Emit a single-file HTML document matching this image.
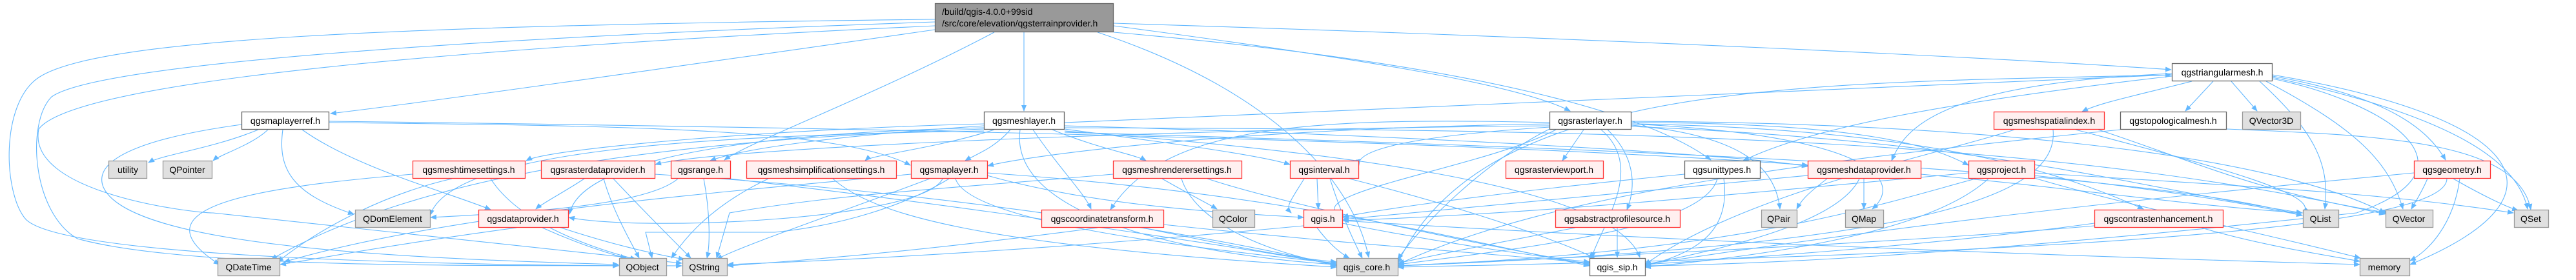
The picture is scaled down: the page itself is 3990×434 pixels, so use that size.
<!DOCTYPE html>
<html><head><meta charset="utf-8"><style>
html,body{margin:0;padding:0;background:#fff;}
svg{display:block;}
text{font-family:"Liberation Sans",sans-serif;font-size:14px;fill:#000;}
.e{fill:none;stroke:#63b8ff;stroke-width:1.1;}
.r{fill:#fff0f0;stroke:#ff3333;stroke-width:1.3;}
.g{fill:#e0e0e0;stroke:#999;stroke-width:1.3;}
.w{fill:#fff;stroke:#666;stroke-width:1.3;}
.k{fill:#999;stroke:#666;stroke-width:1.3;}
</style></head><body>
<svg width="3990" height="434" viewBox="0 0 3990 434" xmlns="http://www.w3.org/2000/svg">
<defs><marker id="a" markerWidth="10" markerHeight="8" refX="9" refY="4" orient="auto" markerUnits="userSpaceOnUse"><path d="M0,0 L10,4 L0,8 z" fill="#63b8ff"/></marker></defs>
<g class="e" marker-end="url(#a)">
<!-- root -->
<path d="M1448 46 C1000 110 650 160 512 176"/>
<path d="M1586 50 L1586 172"/>
<path d="M1540 50 C1350 150 1160 220 1122 248"/>
<path d="M1725 40 C2100 90 2350 130 2432 172"/>
<path d="M1725 50 C2300 100 2560 180 2650 248"/>
<path d="M1725 36 C2500 60 3100 90 3363 108"/>
<path d="M1700 50 C2000 150 2100 300 2120 399"/>
<path d="M1448 30 C600 40 150 60 60 120 C0 160 5 300 40 340 C100 400 700 410 958 412"/>
<path d="M1448 34 C700 60 150 100 80 150 C40 190 50 330 120 370 C300 420 800 410 1056 412"/>
<path d="M1448 40 C800 70 120 120 60 200 C40 300 300 330 330 330 C800 380 1000 400 1056 408"/>
<!-- maplayerref -->
<path d="M400 201 C330 230 250 240 230 252"/>
<path d="M415 201 C390 225 340 240 330 249"/>
<path d="M438 201 C430 260 450 300 548 332"/>
<path d="M468 201 C550 260 700 300 760 325"/>
<path d="M374 193 C250 210 140 240 160 290 C200 380 600 400 958 410"/>
<path d="M510 190 C1000 195 1300 200 1410 256"/>
<path d="M510 188 C1500 200 2300 220 2800 256"/>
<!-- meshlayer -->
<path d="M1565 201 C1540 230 1510 240 1495 249"/>
<path d="M1540 201 C1450 230 1350 240 1340 249"/>
<path d="M1524 192 C1200 200 850 230 815 249"/>
<path d="M1630 201 C1700 230 1760 240 1775 249"/>
<path d="M1600 201 C1640 260 1680 300 1690 324"/>
<path d="M1649 195 C2200 210 2700 240 2800 258"/>
<path d="M1580 201 C1560 350 1900 400 2070 410"/>
<path d="M1649 190 C2500 150 3100 130 3363 116"/>
<path d="M1524 195 C1300 210 1150 230 1100 249"/>
<path d="M1649 200 C1800 220 1950 240 1998 255"/>
<path d="M1524 198 C1200 205 900 240 882 332"/>
<path d="M1649 203 C2000 230 2500 280 2540 399"/>
<path d="M1524 203 C1100 210 700 230 666 334"/>
<path d="M1649 205 C2500 230 3300 260 3566 334"/>
<path d="M1649 198 C2600 200 3200 220 3694 332"/>
<path d="M1524 200 C900 220 600 300 420 402"/>
<!-- rasterlayer -->
<path d="M2453 201 L2420 249"/>
<path d="M2490 201 C2540 250 2530 300 2520 325"/>
<path d="M2400 195 C1800 200 1100 230 1015 255"/>
<path d="M2400 192 C1900 200 1600 240 1530 257"/>
<path d="M2527 194 C2700 210 2750 260 2757 324"/>
<path d="M2527 192 C2900 210 2950 280 2900 324"/>
<path d="M2527 190 C2900 190 3000 230 3049 256"/>
<path d="M2527 192 C3000 200 3200 270 3320 324"/>
<path d="M2527 196 C3100 220 3300 290 3566 330"/>
<path d="M2400 200 C2300 250 2200 350 2165 402"/>
<path d="M2480 201 C2550 260 2480 350 2465 400"/>
<path d="M2410 201 C2300 260 2000 300 2080 337"/>
<path d="M2400 197 C2200 210 2100 230 2105 256"/>
<path d="M2527 188 C3000 190 3500 230 3694 330"/>
<path d="M2400 190 C2000 180 1800 200 1720 325"/>
<!-- row3 nodes -->
<path d="M700 277 C600 300 500 350 430 406"/>
<path d="M760 277 C800 340 900 380 985 402"/>
<path d="M639 270 C400 290 200 320 340 410"/>
<path d="M905 277 C870 300 840 315 830 324"/>
<path d="M935 277 C950 330 980 380 990 400"/>
<path d="M950 277 C1000 330 1050 380 1070 400"/>
<path d="M1014 270 C1500 300 1900 370 2070 412"/>
<path d="M1050 277 C1000 320 800 330 667 337"/>
<path d="M1090 277 C1100 330 1100 380 1095 400"/>
<path d="M1130 277 C1500 320 1900 380 2070 410"/>
<path d="M1290 277 C1350 330 1500 380 2070 414"/>
<path d="M1190 277 C1100 320 1060 370 1040 400"/>
<path d="M1440 277 C1300 330 1150 380 1110 402"/>
<path d="M1470 277 C1400 320 1300 350 1200 360 L1000 360 L1010 400"/>
<path d="M1411 270 C1100 300 700 330 440 406"/>
<path d="M1460 277 C1430 340 1000 360 881 337"/>
<path d="M1529 272 C1700 320 1900 330 2019 337"/>
<path d="M1529 268 C2000 300 2300 380 2462 412"/>
<path d="M1480 277 C1500 340 1800 380 2070 408"/>
<path d="M1800 277 C1840 300 1870 315 1885 324"/>
<path d="M1830 277 C1850 340 1950 390 2070 410"/>
<path d="M1870 277 C2000 320 2300 380 2462 410"/>
<path d="M1724 270 C1500 290 1300 300 1130 330 L1110 400"/>
<path d="M2020 277 C2000 310 1990 320 2000 330"/>
<path d="M2040 277 L2042 324"/>
<path d="M2060 277 C2080 340 2100 380 2110 400"/>
<path d="M2090 277 C2300 330 2430 380 2470 400"/>
<path d="M2609 270 C2300 300 2100 330 2080 337"/>
<path d="M2660 277 C2640 350 2400 380 2165 410"/>
<path d="M2670 277 C2680 350 2640 390 2548 412"/>
<path d="M2830 277 C2800 300 2790 310 2783 324"/>
<path d="M2887 277 L2887 324"/>
<path d="M2880 277 C2850 340 2700 380 2548 410"/>
<path d="M2800 272 C2500 300 2200 330 2080 340"/>
<path d="M2975 270 C3200 290 3400 320 3566 330"/>
<path d="M3060 277 C2900 320 2700 390 2165 412"/>
<path d="M3080 277 C3000 350 2800 390 2548 414"/>
<path d="M3151 272 C3400 300 3500 320 3566 334"/>
<path d="M3151 268 C3500 290 3700 300 3893 330"/>
<path d="M3049 268 C2700 300 2400 330 2080 342"/>
<path d="M3151 276 C3300 320 3500 360 3656 400"/>
<path d="M3739 268 C3400 300 3000 340 2548 410"/>
<path d="M3760 277 C3750 300 3740 315 3735 324"/>
<path d="M3800 277 C3840 300 3880 320 3900 326"/>
<path d="M3810 277 C3800 350 3760 390 3733 404"/>
<path d="M3790 277 C3790 340 3400 390 2165 414"/>
<!-- row2 right -->
<path d="M3120 201 C3000 240 2700 300 2548 410"/>
<path d="M3180 201 C3190 300 3000 380 2165 412"/>
<path d="M3215 201 C3400 250 3600 300 3567 330"/>
<path d="M3250 201 C3400 250 3500 300 3700 330"/>
<path d="M3284 201 C2800 250 2400 300 2165 410"/>
<path d="M3449 200 C3700 210 3900 220 3920 325"/>
<!-- trimesh -->
<path d="M3395 126 C3300 150 3250 160 3225 173"/>
<path d="M3428 126 L3385 172"/>
<path d="M3456 126 L3496 172"/>
<path d="M3520 118 C3700 150 3760 200 3788 248"/>
<path d="M3500 126 C3580 200 3610 250 3601 324"/>
<path d="M3510 126 C3650 200 3700 250 3722 324"/>
<path d="M3520 120 C3800 180 3900 250 3915 324"/>
<path d="M3520 116 C3900 180 4000 300 3733 410"/>
<path d="M3364 118 C3000 160 2800 200 2700 249"/>
<path d="M3364 116 C2800 130 2300 120 2165 408"/>
<path d="M3364 114 C3000 130 2950 200 2930 249"/>
<path d="M3520 122 C3700 160 3850 260 3650 330 C3000 400 2700 410 2548 412"/>
<!-- row4 -->
<path d="M800 353 C600 380 500 400 434 410"/>
<path d="M840 353 C900 380 950 395 970 400"/>
<path d="M860 350 C950 380 1020 395 1060 402"/>
<path d="M1700 353 C1500 380 1300 400 1127 412"/>
<path d="M1770 353 C1900 380 2000 400 2070 406"/>
<path d="M1802 348 C2100 380 2400 400 2462 408"/>
<path d="M2040 353 C2060 380 2080 395 2090 400"/>
<path d="M2079 346 C2250 380 2400 400 2462 406"/>
<path d="M2079 342 C2700 380 3300 400 3655 410"/>
<path d="M2019 350 C1700 380 1400 400 1127 410"/>
<path d="M2505 353 L2505 399"/>
<path d="M2440 353 C2300 380 2200 400 2166 408"/>
<path d="M3244 350 C2900 380 2400 400 2166 412"/>
<path d="M3410 353 C3500 380 3600 395 3655 405"/>
<path d="M3244 346 C3000 380 2700 400 2548 410"/>
</g>
<!-- nodes -->
<rect class="k" x="1448.5" y="5.5" width="276" height="44"/>
<text x="1459" y="23">/build/qgis-4.0.0+99sid</text>
<text x="1459" y="41">/src/core/elevation/qgsterrainprovider.h</text>
<g>
<rect class="w" x="3364.5" y="98.5" width="155" height="27"/><text x="3442" y="117" text-anchor="middle">qgstriangularmesh.h</text>
<rect class="w" x="374.5" y="173.5" width="135" height="27"/><text x="442" y="192" text-anchor="middle">qgsmaplayerref.h</text>
<rect class="w" x="1524.5" y="173.5" width="124" height="27"/><text x="1586" y="192" text-anchor="middle">qgsmeshlayer.h</text>
<rect class="w" x="2400.5" y="173.5" width="126" height="27"/><text x="2463" y="192" text-anchor="middle">qgsrasterlayer.h</text>
<rect class="r" x="3088.5" y="173.5" width="171" height="27"/><text x="3174" y="192" text-anchor="middle">qgsmeshspatialindex.h</text>
<rect class="w" x="3284.5" y="173.5" width="164" height="27"/><text x="3366" y="192" text-anchor="middle">qgstopologicalmesh.h</text>
<rect class="g" x="3473.5" y="173.5" width="90" height="27"/><text x="3518" y="192" text-anchor="middle">QVector3D</text>

<rect class="g" x="168.5" y="249.5" width="59" height="27"/><text x="198" y="268" text-anchor="middle">utility</text>
<rect class="g" x="252.5" y="249.5" width="76" height="27"/><text x="290" y="268" text-anchor="middle">QPointer</text>
<rect class="r" x="639.5" y="249.5" width="174" height="27"/><text x="726" y="268" text-anchor="middle">qgsmeshtimesettings.h</text>
<rect class="r" x="838.5" y="249.5" width="176" height="27"/><text x="926" y="268" text-anchor="middle">qgsrasterdataprovider.h</text>
<rect class="r" x="1039.5" y="249.5" width="92" height="27"/><text x="1085" y="268" text-anchor="middle">qgsrange.h</text>
<rect class="r" x="1156.5" y="249.5" width="232" height="27"/><text x="1272" y="268" text-anchor="middle">qgsmeshsimplificationsettings.h</text>
<rect class="r" x="1411.5" y="249.5" width="118" height="27"/><text x="1470" y="268" text-anchor="middle">qgsmaplayer.h</text>
<rect class="r" x="1724.5" y="249.5" width="199" height="27"/><text x="1823" y="268" text-anchor="middle">qgsmeshrenderersettings.h</text>
<rect class="r" x="1998.5" y="249.5" width="106" height="27"/><text x="2051" y="268" text-anchor="middle">qgsinterval.h</text>
<rect class="r" x="2332.5" y="249.5" width="151" height="27"/><text x="2407" y="268" text-anchor="middle">qgsrasterviewport.h</text>
<rect class="w" x="2609.5" y="249.5" width="117" height="27"/><text x="2667" y="268" text-anchor="middle">qgsunittypes.h</text>
<rect class="r" x="2800.5" y="249.5" width="175" height="27"/><text x="2887" y="268" text-anchor="middle">qgsmeshdataprovider.h</text>
<rect class="r" x="3049.5" y="249.5" width="102" height="27"/><text x="3100" y="268" text-anchor="middle">qgsproject.h</text>
<rect class="r" x="3739.5" y="249.5" width="118" height="27"/><text x="3798" y="268" text-anchor="middle">qgsgeometry.h</text>

<rect class="g" x="550.5" y="325.5" width="116" height="27"/><text x="608" y="344" text-anchor="middle">QDomElement</text>
<rect class="r" x="741.5" y="325.5" width="139" height="27"/><text x="810" y="344" text-anchor="middle">qgsdataprovider.h</text>
<rect class="r" x="1613.5" y="325.5" width="189" height="27"/><text x="1707" y="344" text-anchor="middle">qgscoordinatetransform.h</text>
<rect class="g" x="1878.5" y="325.5" width="65" height="27"/><text x="1910" y="344" text-anchor="middle">QColor</text>
<rect class="r" x="2019.5" y="325.5" width="60" height="27"/><text x="2049" y="344" text-anchor="middle">qgis.h</text>
<rect class="r" x="2409.5" y="325.5" width="193" height="27"/><text x="2505" y="344" text-anchor="middle">qgsabstractprofilesource.h</text>
<rect class="g" x="2728.5" y="325.5" width="55" height="27"/><text x="2755" y="344" text-anchor="middle">QPair</text>
<rect class="g" x="2858.5" y="325.5" width="59" height="27"/><text x="2887" y="344" text-anchor="middle">QMap</text>
<rect class="r" x="3244.5" y="325.5" width="199" height="27"/><text x="3343" y="344" text-anchor="middle">qgscontrastenhancement.h</text>
<rect class="g" x="3567.5" y="325.5" width="55" height="27"/><text x="3594" y="344" text-anchor="middle">QList</text>
<rect class="g" x="3695.5" y="325.5" width="73" height="27"/><text x="3731" y="344" text-anchor="middle">QVector</text>
<rect class="g" x="3894.5" y="325.5" width="53" height="27"/><text x="3920" y="344" text-anchor="middle">QSet</text>

<rect class="g" x="337.5" y="400.5" width="96" height="27"/><text x="385" y="419" text-anchor="middle">QDateTime</text>
<rect class="g" x="959.5" y="400.5" width="73" height="27"/><text x="995" y="419" text-anchor="middle">QObject</text>
<rect class="g" x="1057.5" y="400.5" width="69" height="27"/><text x="1091" y="419" text-anchor="middle">QString</text>
<rect class="g" x="2070.5" y="400.5" width="95" height="27"/><text x="2117" y="419" text-anchor="middle">qgis_core.h</text>
<rect class="w" x="2462.5" y="400.5" width="86" height="27"/><text x="2505" y="419" text-anchor="middle">qgis_sip.h</text>
<rect class="g" x="3655.5" y="400.5" width="77" height="27"/><text x="3693" y="419" text-anchor="middle">memory</text>
</g>
</svg>
</body></html>
